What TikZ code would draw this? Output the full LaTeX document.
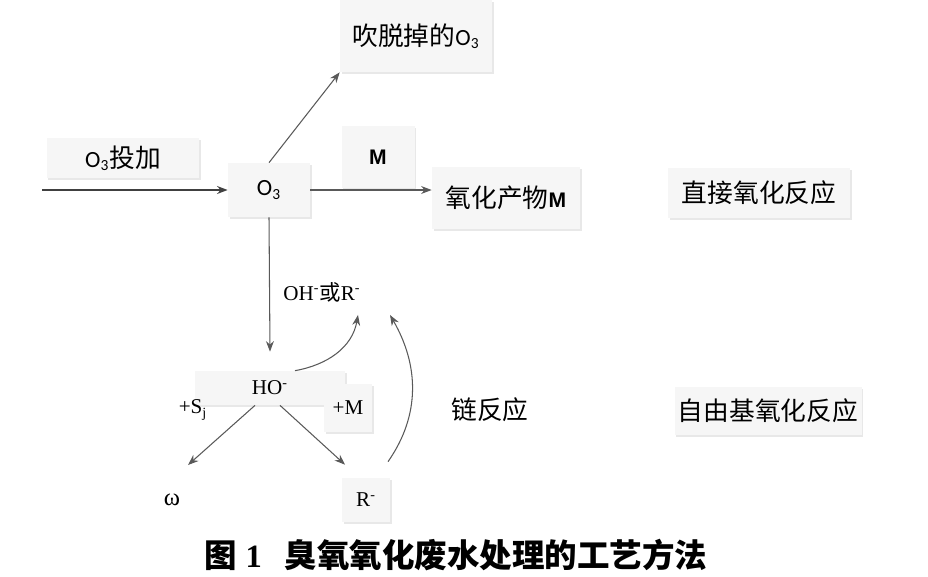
\documentclass[tikz,border=0pt]{standalone}
\usepackage{fontspec}
\setmainfont{Liberation Serif}
\newfontfamily\cjk{Noto Sans CJK SC}[Scale=1.22]
\newfontfamily\cjkcap{Noto Sans CJK SC Bold}
\newfontfamily\cali{Carlito}[Scale=1.1]
\newfontfamily\arl{Liberation Sans}
\usetikzlibrary{arrows.meta,shadows}

\begin{document}
\begin{tikzpicture}[x=0.02cm, y=0.02cm,
  box/.style={fill=gray!7, draw=none, inner sep=0pt,
    drop shadow={opacity=0.18, shadow xshift=1pt, shadow yshift=-1pt}},
  lbl/.style={inner sep=1pt, font=\fontsize{12}{14}\selectfont},
  arr/.style={semithick, black!65, -{Stealth[length=6pt,width=4.5pt]}},
  feed/.style={very thick, black!75, -{Stealth[length=6pt,width=4.5pt]}}]
 \useasboundingbox (0,0) rectangle (928,576);

 % direct route
 \node[box, lbl, minimum width=3.04cm, minimum height=1.44cm] (blow) at (416,540) {{\cjk 吹脱掉的}{\cali O\textsubscript{3}}};
 \node[box, lbl, minimum width=3.06cm, minimum height=0.8cm] (add) at (123,418) {{\cali O\textsubscript{3}}{\cjk 投加}};
 \node[box, lbl, minimum width=1.64cm, minimum height=1.08cm] (o3) at (269,386) {\cali O\textsubscript{3}};
 \node[box, lbl, minimum width=1.46cm, minimum height=1.24cm] (mbox) at (378,419) {\arl\bfseries M};
 \node[box, lbl, minimum width=2.96cm, minimum height=1.24cm] (prod) at (506,378) {{\cjk 氧化产物}{\arl\bfseries M}};
 \node[box, lbl, minimum width=3.64cm, minimum height=1.0cm] (direct) at (759,383) {\cjk 直接氧化反应};

 \coordinate (start) at (42,386);
 \draw[feed] (start) -- (o3.west);
 \draw[arr] (o3.north) -- (blow.south west);
 \draw[arr] (o3.east) -- (o3.east -| prod.west);

 % radical route
 \node[lbl] (ohr) at (322,284) {OH\textsuperscript{-}{\fontsize{10}{12}\cjk 或}R\textsuperscript{-}};
 \node[box, lbl, minimum width=3.0cm, minimum height=0.68cm] (ho) at (270,188) {HO\textsuperscript{-}};
 \node[box, lbl, minimum width=0.96cm, minimum height=0.96cm] (plusm) at (348,168) {+M};
 \node[lbl] (sj) at (193,166) {+S\textsubscript{j}};
 \node[lbl] (chain) at (490,166) {\cjk 链反应};
 \node[box, lbl, minimum width=3.74cm, minimum height=0.96cm] (radical) at (768,165) {\cjk 自由基氧化反应};
 \node[lbl, font=\fontsize{14}{16}\selectfont] (omega) at (172,76) {ω};
 \node[box, lbl, minimum width=0.96cm, minimum height=0.88cm] (rdot) at (366,76) {R\textsuperscript{-}};

 \draw[arr] (o3.south) -- ([yshift=0.38cm]ho.north);
 \draw[arr] ([xshift=-0.3cm]ho.south) -- ([shift={(16,27)}]omega.north);
 \draw[arr] ([xshift=0.2cm]ho.south) -- ([shift={(-21,13)}]rdot.north);
 \draw[arr] ([xshift=0.5cm]ho.north) to[out=10, in=-100] ([shift={(36,-11)}]ohr.south);
 \draw[arr] ([shift={(22,16)}]rdot.north) to[out=55, in=-60] ([shift={(68,-11)}]ohr.south);

 \node[font=\fontsize{18.5}{21}\selectfont\bfseries] (cap) at (456,21) {{\cjkcap 图} 1\hspace{0.7em}{\cjkcap 臭氧氧化废水处理的工艺方法}};
\end{tikzpicture}
\end{document}
